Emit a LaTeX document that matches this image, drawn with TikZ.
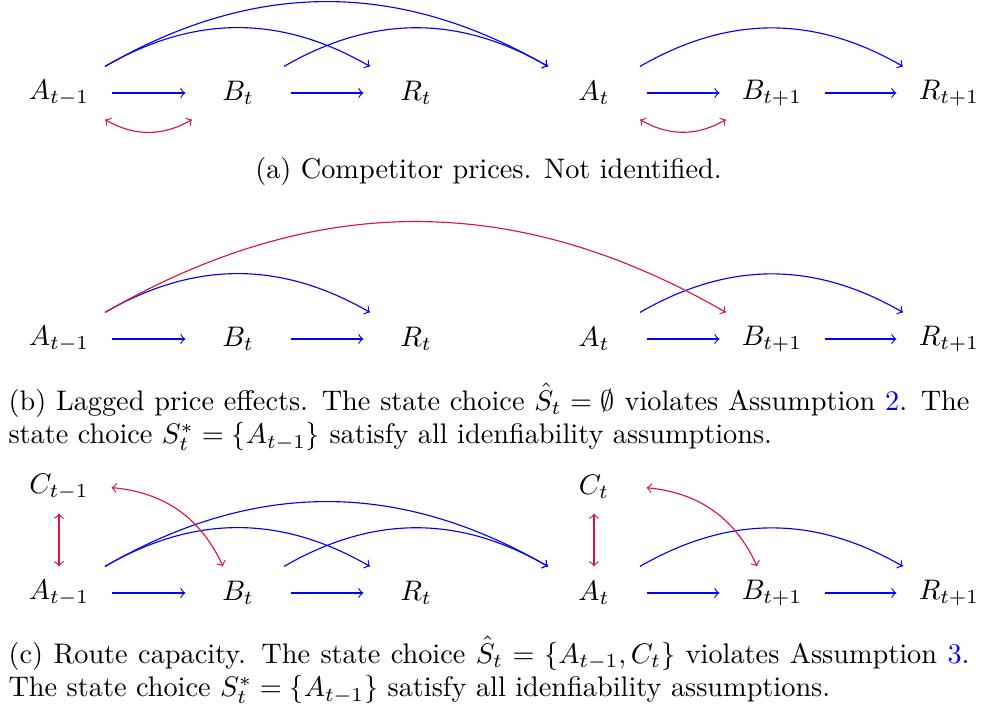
\documentclass[tikz,border=0pt]{standalone}
\definecolor{crim}{RGB}{220,20,60}
\definecolor{pblue}{RGB}{0,0,255}
\begin{document}
\begin{tikzpicture}[x=0.3534pt,y=-0.3534pt,
  v/.style={rectangle, minimum width=36.75pt, minimum height=18.38pt, inner sep=0pt},
  bl/.style={draw=pblue, ->, line width=0.4pt},
  rd/.style={draw=crim, <->, line width=0.4pt},
  rdo/.style={draw=crim, ->, line width=0.4pt},
  captext/.style={anchor=base west, text width=339.6pt, align=justify, inner sep=0pt}]
\useasboundingbox (0,0) rectangle (982,713);
% ---------- (a)
\node[v] (a1) at (59,93) {$A_{t-1}$};
\node[v] (b1) at (238,93) {$B_t$};
\node[v] (r1) at (416,93) {$R_t$};
\node[v] (a2) at (594,93) {$A_t$};
\node[v] (b2) at (772,93) {$B_{t+1}$};
\node[v] (r2) at (949,93) {$R_{t+1}$};
\draw[bl] (a1) -- (b1);
\draw[bl] (b1) -- (r1);
\draw[bl] (a2) -- (b2);
\draw[bl] (b2) -- (r2);
\draw[bl] (a1) to[bend left=30] (r1);
\draw[bl] (a1) to[bend left=30] (a2);
\draw[bl] (b1) to[bend left=30] (a2);
\draw[bl] (a2) to[bend left=30] (r2);
\draw[rd] (a1) to[bend right=30] (b1);
\draw[rd] (a2) to[bend right=30] (b2);
\node[anchor=base, inner sep=0pt] (capa) at (488.5,178) {(a) Competitor prices. Not identified.};
% ---------- (b)
\node[v] (a3) at (59,339) {$A_{t-1}$};
\node[v] (b3) at (238,339) {$B_t$};
\node[v] (r3) at (416,339) {$R_t$};
\node[v] (a4) at (594,339) {$A_t$};
\node[v] (b4) at (772,339) {$B_{t+1}$};
\node[v] (r4) at (949,339) {$R_{t+1}$};
\draw[bl] (a3) -- (b3);
\draw[bl] (b3) -- (r3);
\draw[bl] (a4) -- (b4);
\draw[bl] (b4) -- (r4);
\draw[bl] (a3) to[bend left=30] (r3);
\draw[bl] (a4) to[bend left=30] (r4);
\draw[rdo] (a3) to[bend left=30] (b4);
\node[captext] (capb) at (8,410) {(b) Lagged price effects. The state choice $\hat{S}_t=\emptyset$ violates Assumption \textcolor{pblue}{2}. The\linebreak state choice $S^*_t=\{A_{t-1}\}$ satisfy all idenfiability assumptions.};
% ---------- (c)
\node[v] (c5) at (59,487) {$C_{t-1}$};
\node[v] (c6) at (594,487) {$C_t$};
\node[v] (a5) at (59,593) {$A_{t-1}$};
\node[v] (b5) at (238,593) {$B_t$};
\node[v] (r5) at (416,593) {$R_t$};
\node[v] (a6) at (594,593) {$A_t$};
\node[v] (b6) at (772,593) {$B_{t+1}$};
\node[v] (r6) at (949,593) {$R_{t+1}$};
\draw[bl] (a5) -- (b5);
\draw[bl] (b5) -- (r5);
\draw[bl] (a6) -- (b6);
\draw[bl] (b6) -- (r6);
\draw[bl] (a5) to[bend left=30] (r5);
\draw[bl] (a5) to[bend left=30] (a6);
\draw[bl] (b5) to[bend left=30] (a6);
\draw[bl] (a6) to[bend left=30] (r6);
\draw[rd] (c5) -- (a5);
\draw[rd] (c6) -- (a6);
\draw[rd] (c5) to[bend left=30] (b5);
\draw[rd] (c6) to[bend left=30] (b6);
\node[captext] (capc) at (8,663) {(c) Route capacity. The state choice $\hat{S}_t=\{A_{t-1},C_t\}$ violates Assumption \textcolor{pblue}{3}.\linebreak The state choice $S^*_t=\{A_{t-1}\}$ satisfy all idenfiability assumptions.};
\end{tikzpicture}
\end{document}
